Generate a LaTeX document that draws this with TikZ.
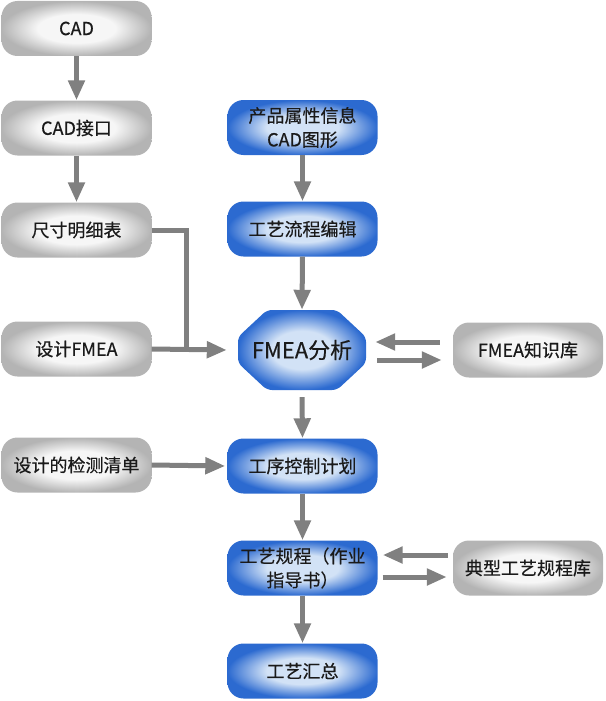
\documentclass[tikz,border=0pt]{standalone}
\usepackage{fontspec}
\setmainfont{Noto Sans CJK SC}[FakeBold=0.4]
\usetikzlibrary{arrows.meta,calc}
\definecolor{arrowgray}{HTML}{808080}
\definecolor{blueout}{HTML}{2C6AD0}
\definecolor{bluein}{HTML}{D2E2F6}
\definecolor{grayout}{HTML}{B4B4B4}
\definecolor{grayin}{HTML}{F6F6F6}
\definecolor{txt}{HTML}{1A1A1A}
\pgfdeclareradialshading{glowblue}{\pgfpoint{0bp}{0bp}}{color(0bp)=(bluein); color(12bp)=(bluein); color(25bp)=(blueout); color(50bp)=(blueout)}
\pgfdeclareradialshading{glowgray}{\pgfpoint{0bp}{0bp}}{color(0bp)=(grayin); color(13bp)=(grayin); color(25bp)=(grayout); color(50bp)=(grayout)}
\begin{document}
\begin{tikzpicture}[x=1pt,y=1pt,
  box/.style={rounded corners=16pt, minimum width=150pt, minimum height=55pt, inner sep=0pt,
    text=txt, align=center, font=\fontsize{18}{24}\selectfont},
  graybox/.style={box, shading=glowgray},
  bluebox/.style={box, shading=glowblue},
  arr/.style={draw=arrowgray, line width=5pt, -{Triangle[width=16pt,length=20pt]}},
  conn/.style={draw=arrowgray, line width=5pt}
]
\useasboundingbox (0,0) rectangle (605,-701);
% left column
\node[graybox] (cad) at (76.5,-28.5) {CAD};
\node[graybox] (cadif) at (76.5,-128) {CAD接口};
\node[graybox] (chicun) at (76.5,-230) {尺寸明细表};
\node[graybox] (sjfmea) at (76.5,-349) {设计FMEA};
\node[graybox] (jcqd) at (76.5,-465) {设计的检测清单};
% middle column
\node[bluebox] (cpsx) at (302.5,-127.5) {产品属性信息\\CAD图形};
\node[bluebox] (lcbj) at (302.5,-229) {工艺流程编辑};
\coordinate (fc) at (302,-350);
\path[shading=glowblue, rounded corners=5pt]
  ($(fc)+(-35,40)$) -- ($(fc)+(35,40)$) -- ($(fc)+(64,13)$) -- ($(fc)+(64,-13)$) --
  ($(fc)+(35,-40)$) -- ($(fc)+(-35,-40)$) -- ($(fc)+(-64,-13)$) -- ($(fc)+(-64,13)$) -- cycle;
\node[minimum width=132pt, minimum height=80pt, inner sep=0pt, text=txt, font=\fontsize{22}{24}\selectfont] (fmea) at (fc) {FMEA分析};
\node[bluebox] (gxkz) at (302.5,-466) {工序控制计划};
\node[bluebox] (gygc) at (302.5,-568) {工艺规程（作业\\指导书）};
\node[bluebox] (gyhz) at (302.5,-671) {工艺汇总};
% right column
\node[graybox] (zsk) at (528,-350) {FMEA知识库};
\node[graybox] (dxgy) at (528,-568) {典型工艺规程库};
% connectors
\draw[arr] (cad.south) -- (cadif.north);
\draw[arr] (cadif.south) -- (chicun.north);
\draw[arr] (cpsx.south) -- (lcbj.north);
\draw[arr] (lcbj.south) -- (fmea.north);
\draw[conn] (chicun.east) -| ($(sjfmea.east)+(35,0)$);
\draw[arr] (sjfmea.east) -- ([xshift=-9pt]fmea.west);
\draw[arr] ([xshift=-13pt,yshift=8pt]zsk.west) -- ([xshift=7pt,yshift=8pt]fmea.east);
\draw[arr] ([xshift=9pt,yshift=-10pt]fmea.east) -- ([xshift=-11pt,yshift=-10pt]zsk.west);
\draw[arr] ([yshift=-7pt]fmea.south) -- (gxkz.north);
\draw[arr] (jcqd.east) -- ([xshift=-2pt]gxkz.west);
\draw[arr] (gxkz.south) -- (gygc.north);
\draw[arr] ([xshift=-5pt,yshift=13pt]dxgy.west) -- ([xshift=5pt,yshift=13pt]gygc.east);
\draw[arr] ([xshift=5pt,yshift=-9pt]gygc.east) -- ([xshift=-6pt,yshift=-9pt]dxgy.west);
\draw[arr] (gygc.south) -- (gyhz.north);
\end{tikzpicture}
\end{document}
